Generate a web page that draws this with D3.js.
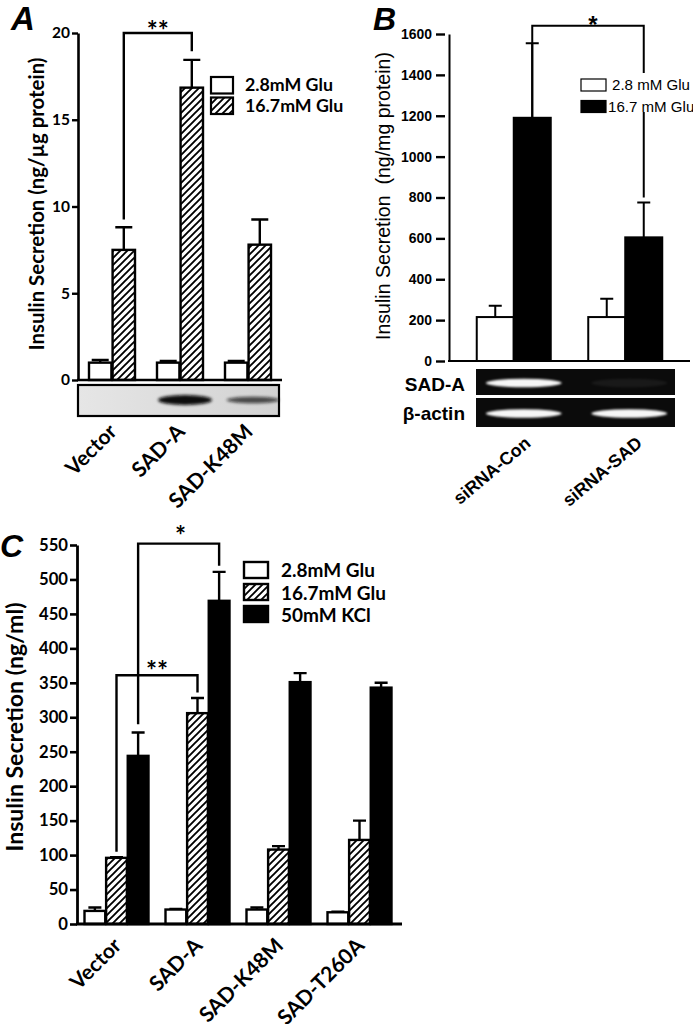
<!DOCTYPE html>
<html><head><meta charset="utf-8">
<script src="https://cdn.jsdelivr.net/npm/d3@7"></script>
<style>
body{margin:0;background:#fff;}
svg{display:block;}
</style></head><body>
<svg id="c" width="693" height="1024"></svg>
<script>
// ---------- DATA ----------
// Panel A
const groupsA = ["Vector", "SAD-A", "SAD-K48M"];
const seriesA = ["2.8mM Glu", "16.7mM Glu"];
const lowA = [1.0, 1.0, 1.0];
const lowAErr = [0.15, 0.1, 0.1];
const highA = [7.5, 16.85, 7.8];
const highAErr = [1.3, 1.6, 1.45];
const ticksA = [0, 5, 10, 15, 20];
const blotA = [0, 1.0, 0.7];
// Panel B
const groupsB = ["siRNA-Con", "siRNA-SAD"];
const seriesB = ["2.8 mM Glu", "16.7 mM Glu"];
const lowB = [215, 215];
const lowBErr = [55, 90];
const highB = [1190, 605];
const highBErr = [365, 170];
const ticksB = [0, 200, 400, 600, 800, 1000, 1200, 1400, 1600];
const blotRowsB = ["SAD-A", "β-actin"];
const blotSadB = [1.0, 0.06];
const blotActinB = [1.0, 1.0];
// Panel C
const groupsC = ["Vector", "SAD-A", "SAD-K48M", "SAD-T260A"];
const seriesC = ["2.8mM Glu", "16.7mM Glu", "50mM KCl"];
const lowC = [19, 21, 21, 17];
const lowCErr = [5, 1, 3, 1];
const highC = [96, 306, 108, 122];
const highCErr = [1, 22, 5, 28];
const kclC = [244, 469, 351, 343];
const kclCErr = [34, 42, 13, 7];
const ticksC = [0, 50, 100, 150, 200, 250, 300, 350, 400, 450, 500, 550];

// ---------- SETUP ----------
const svg = d3.select("#c");
const CAL = "Lato, 'Open Sans', sans-serif";
const ARI = "'Liberation Sans', Arial, sans-serif";
const defs = svg.append("defs");
const pat = defs.append("pattern").attr("id", "hatch").attr("patternUnits", "userSpaceOnUse")
  .attr("width", 7).attr("height", 7);
pat.append("rect").attr("width", 7).attr("height", 7).attr("fill", "#fff");
pat.append("path").attr("d", "M-1,1 L1,-1 M0,7 L7,0 M6,8 L8,6").attr("stroke", "#000").attr("stroke-width", 1.9);
defs.append("filter").attr("id", "blur").attr("x", "-30%").attr("y", "-100%").attr("width", "160%").attr("height", "300%")
  .append("feGaussianBlur").attr("stdDeviation", 1.8);
defs.append("filter").attr("id", "blur2").attr("x", "-30%").attr("y", "-100%").attr("width", "160%").attr("height", "300%")
  .append("feGaussianBlur").attr("stdDeviation", 1.1);

// scale a set of texts so that the reference element gets the target length
function fit(sel, target, idx) {
  const nodes = sel.nodes();
  const ref = nodes[idx || 0];
  const L = ref.getComputedTextLength();
  const fs = parseFloat(ref.getAttribute("font-size"));
  const nf = fs * target / L;
  nodes.forEach(n => n.setAttribute("font-size", nf));
}

function drawBars(g, groups, x, xs, y, series, values, errs, fills, sw, capW) {
  series.forEach((s, si) => {
    g.selectAll(null).data(groups).join("rect")
      .attr("x", d => x(d) + xs(s)).attr("width", xs.bandwidth())
      .attr("y", (d, i) => y(values[si][i])).attr("height", (d, i) => y(0) - y(values[si][i]))
      .attr("fill", fills[si]).attr("stroke", "#000").attr("stroke-width", sw);
    g.selectAll(null).data(groups).join("path")
      .attr("d", (d, i) => {
        const cx = x(d) + xs(s) + xs.bandwidth() / 2;
        const v = values[si][i], e = errs[si][i];
        return `M${cx},${y(v)}V${y(v + e)}M${cx - capW / 2},${y(v + e)}H${cx + capW / 2}`;
      })
      .attr("fill", "none").attr("stroke", "#000").attr("stroke-width", sw);
  });
}

// ---------- PANEL A ----------
(function () {
  const g = svg.append("g");
  const x = d3.scalePoint().domain(groupsA).range([78, 282]).padding(0.5);
  const xs = d3.scaleBand().domain(seriesA).range([-23, 23]).paddingInner(0.05);
  const y = d3.scaleLinear().domain([0, 20]).range([380, 33]);

  drawBars(g, groupsA, x, xs, y, seriesA, [lowA, highA], [lowAErr, highAErr], ["#fff", "url(#hatch)"], 2.4, 17);

  const ax = g.append("g").attr("transform", "translate(78,0)")
    .call(d3.axisLeft(y).tickValues(ticksA).tickSize(6).tickSizeOuter(0).tickPadding(2));
  ax.select(".domain").attr("stroke-width", 2.6);
  ax.selectAll(".tick line").attr("stroke-width", 2.4);
  const tl = ax.selectAll("text").attr("font-family", CAL).attr("font-weight", 700).attr("font-size", 18).attr("fill", "#000");
  fit(tl, 18, 4);
  g.append("line").attr("x1", 77).attr("x2", 282).attr("y1", y(0)).attr("y2", y(0)).attr("stroke", "#000").attr("stroke-width", 2.6);

  // blot
  const bg = defs.append("linearGradient").attr("id", "blotA").attr("x1", 0).attr("x2", 1);
  bg.append("stop").attr("offset", 0).attr("stop-color", "#e6e6e6");
  bg.append("stop").attr("offset", 1).attr("stop-color", "#d2d2d2");
  g.append("rect").attr("x", 78).attr("y", 385).attr("width", 201).attr("height", 31)
    .attr("fill", "url(#blotA)").attr("stroke", "#000").attr("stroke-width", 2.2);
  g.selectAll(null).data(groupsA).join("ellipse")
    .attr("cx", d => x(d) + 5).attr("cy", 400)
    .attr("rx", (d, i) => 25 + 2 * blotA[i]).attr("ry", (d, i) => 1.5 + 3.5 * blotA[i] * blotA[i])
    .attr("fill", "#0a0a0a").attr("opacity", (d, i) => blotA[i]).attr("filter", "url(#blur)");

  // bracket
  const cV = x("Vector") + xs(seriesA[1]) + xs.bandwidth() / 2;
  const cS = x("SAD-A") + xs(seriesA[1]) + xs.bandwidth() / 2;
  g.append("path").attr("d", `M${cV},${y(highA[0] + highAErr[0] + 0.45)}V${y(20)}H${cS}V${y(highA[1] + highAErr[1] + 0.5)}`)
    .attr("fill", "none").attr("stroke", "#000").attr("stroke-width", 2.4);
  g.append("text").attr("x", (cV + cS) / 2).attr("y", 40).attr("text-anchor", "middle")
    .attr("font-family", CAL).attr("font-weight", 700).attr("font-size", 26).text("**");

  // labels
  const yt = g.append("text").attr("transform", "translate(44,204) rotate(-90)").attr("text-anchor", "middle")
    .attr("font-family", CAL).attr("font-weight", 700).attr("font-size", 20).text("Insulin Secretion (ng/µg protein)");
  fit(yt, 293);
  g.append("text").attr("x", 11).attr("y", 30).attr("font-family", ARI).attr("font-weight", 700)
    .attr("font-style", "italic").attr("font-size", 33).text("A");
  const xl = g.selectAll(null).data(groupsA).join("text")
    .attr("transform", d => `translate(${x(d) + 6},${433}) rotate(-45)`).attr("text-anchor", "end")
    .attr("font-family", CAL).attr("font-weight", 700).attr("font-size", 20).text(d => d);
  fit(xl, 62, 0);

  // legend
  const lg = g.append("g");
  const fills = ["#fff", "url(#hatch)"];
  seriesA.forEach((s, i) => {
    lg.append("rect").attr("x", 211).attr("y", 77 + i * 20.5).attr("width", 22).attr("height", 16.5)
      .attr("fill", fills[i]).attr("stroke", "#000").attr("stroke-width", 2.2);
  });
  const lt = lg.selectAll(null).data(seriesA).join("text").attr("x", 245).attr("y", (d, i) => 91 + i * 20.5)
    .attr("font-family", CAL).attr("font-weight", 700).attr("font-size", 17).text(d => d);
  fit(lt, 88, 0);
})();

// ---------- PANEL B ----------
(function () {
  const g = svg.append("g");
  const x = d3.scalePoint().domain(groupsB).range([458, 681]).padding(0.5);
  const xs = d3.scaleBand().domain(seriesB).range([-37, 37]).paddingInner(0);
  const y = d3.scaleLinear().domain([0, 1600]).range([361, 34]);

  // bracket (behind legend)
  const cC = x(groupsB[0]) + xs(seriesB[1]) + xs.bandwidth() / 2;
  const cS = x(groupsB[1]) + xs(seriesB[1]) + xs.bandwidth() / 2;
  g.append("path").attr("d", `M${cC},${y(highB[0])}V${y(1640)}H${cS}V${y(800)}`)
    .attr("fill", "none").attr("stroke", "#000").attr("stroke-width", 2);
  g.append("text").attr("x", 593).attr("y", 33).attr("text-anchor", "middle")
    .attr("font-family", ARI).attr("font-weight", 700).attr("font-size", 24).text("*");

  drawBars(g, groupsB, x, xs, y, seriesB, [lowB, highB], [lowBErr, highBErr], ["#fff", "#000"], 2, 13);

  const ax = g.append("g").attr("transform", "translate(449,0)")
    .call(d3.axisLeft(y).tickValues(ticksB).tickFormat(d3.format("d")).tickSize(13).tickSizeOuter(0).tickPadding(4));
  ax.select(".domain").attr("stroke-width", 2);
  ax.selectAll(".tick line").attr("x1", -4).attr("stroke-width", 2.4);
  const tl = ax.selectAll("text").attr("font-family", ARI).attr("font-weight", 700).attr("font-size", 14).attr("fill", "#000");
  fit(tl, 31, 8);
  g.append("line").attr("x1", 448).attr("x2", 690).attr("y1", y(0)).attr("y2", y(0)).attr("stroke", "#000").attr("stroke-width", 2);

  // legend
  const lg = g.append("g");
  lg.append("rect").attr("x", 579).attr("y", 73).attr("width", 114).attr("height", 39).attr("fill", "#fff");
  const fills = ["#fff", "#000"];
  seriesB.forEach((s, i) => {
    lg.append("rect").attr("x", 581).attr("y", 79 + i * 21.5).attr("width", 25).attr("height", 12)
      .attr("fill", fills[i]).attr("stroke", "#000").attr("stroke-width", 1.2);
  });
  const lt = lg.selectAll(null).data(seriesB).join("text").attr("x", (d, i) => i === 0 ? 612 : 608)
    .attr("y", (d, i) => 90 + i * 21.5).attr("font-family", ARI).attr("font-size", 15).text(d => d);
  fit(lt, 78, 0);

  // blots
  const rowsY = [369, 398];
  const rowsH = [26, 29];
  const rowsVals = [blotSadB, blotActinB];
  blotRowsB.forEach((r, ri) => {
    g.append("rect").attr("x", 476).attr("y", rowsY[ri]).attr("width", 199).attr("height", rowsH[ri]).attr("fill", "#0b0b0b");
    g.selectAll(null).data(groupsB).join("ellipse")
      .attr("cx", (d, i) => x(d) + (i === 0 ? 10 : 4)).attr("cy", rowsY[ri] + rowsH[ri] / 2 + 1)
      .attr("rx", 38).attr("ry", 4.2)
      .attr("fill", "#f6f6f6").attr("opacity", (d, i) => rowsVals[ri][i]).attr("filter", "url(#blur2)");
  });
  g.selectAll(null).data(blotRowsB).join("text").attr("x", 465).attr("y", (d, i) => rowsY[i] + 22)
    .attr("text-anchor", "end").attr("font-family", ARI).attr("font-weight", 700).attr("font-size", 19).text(d => d);

  const yt = g.append("text").attr("transform", "translate(390,196) rotate(-90)").attr("text-anchor", "middle")
    .attr("font-family", ARI).attr("font-size", 19).attr("xml:space", "preserve").text("Insulin Secretion  (ng/mg protein)");
  fit(yt, 288);
  g.append("text").attr("x", 373).attr("y", 30).attr("font-family", ARI).attr("font-weight", 700)
    .attr("font-style", "italic").attr("font-size", 32).text("B");
  const xl = g.selectAll(null).data(groupsB).join("text")
    .attr("transform", (d, i) => `translate(${x(d) + 18},${445}) rotate(-40)`).attr("text-anchor", "end")
    .attr("font-family", ARI).attr("font-weight", 700).attr("font-size", 17).text(d => d);
  fit(xl, 94, 0);
})();

// ---------- PANEL C ----------
(function () {
  const g = svg.append("g");
  const x = d3.scalePoint().domain(groupsC).range([76, 400]).padding(0.5);
  const xs = d3.scaleBand().domain(seriesC).range([-32, 32]).paddingInner(0.04);
  const y = d3.scaleLinear().domain([0, 550]).range([924, 545]);

  drawBars(g, groupsC, x, xs, y, seriesC, [lowC, highC, kclC], [lowCErr, highCErr, kclCErr],
    ["#fff", "url(#hatch)", "#000"], 2.4, 13);

  const ax = g.append("g").attr("transform", "translate(77,0)")
    .call(d3.axisLeft(y).tickValues(ticksC).tickSize(7).tickSizeOuter(0).tickPadding(2));
  ax.select(".domain").attr("stroke-width", 2.8);
  ax.selectAll(".tick line").attr("stroke-width", 2.6);
  const tl = ax.selectAll("text").attr("font-family", CAL).attr("font-weight", 700).attr("font-size", 18).attr("fill", "#000");
  fit(tl, 29, 11);
  g.append("line").attr("x1", 76).attr("x2", 402).attr("y1", y(0)).attr("y2", y(0)).attr("stroke", "#000").attr("stroke-width", 2.8);

  // brackets
  const cx = (grp, s) => x(grp) + xs(s) + xs.bandwidth() / 2;
  const b1l = cx("Vector", seriesC[2]), b1r = cx("SAD-A", seriesC[2]);
  g.append("path").attr("d", `M${b1l},${y(290)}V${y(552)}H${b1r}V${y(520)}`)
    .attr("fill", "none").attr("stroke", "#000").attr("stroke-width", 2.4);
  g.append("text").attr("x", (b1l + b1r) / 2 + 2).attr("y", 545).attr("text-anchor", "middle")
    .attr("font-family", CAL).attr("font-weight", 700).attr("font-size", 26).text("*");
  const b2l = cx("Vector", seriesC[1]), b2r = cx("SAD-A", seriesC[1]);
  g.append("path").attr("d", `M${b2l},${y(105)}V${y(361)}H${b2r}V${y(336)}`)
    .attr("fill", "none").attr("stroke", "#000").attr("stroke-width", 2.4);
  g.append("text").attr("x", (b2l + b2r) / 2).attr("y", 680).attr("text-anchor", "middle")
    .attr("font-family", CAL).attr("font-weight", 700).attr("font-size", 26).text("**");

  // legend
  const fills = ["#fff", "url(#hatch)", "#000"];
  seriesC.forEach((s, i) => {
    g.append("rect").attr("x", 244).attr("y", 562 + i * 22).attr("width", 24).attr("height", 16)
      .attr("fill", fills[i]).attr("stroke", "#000").attr("stroke-width", 2.4);
  });
  const lt = g.selectAll(null).data(seriesC).join("text").attr("x", 281).attr("y", (d, i) => 577 + i * 22.5)
    .attr("font-family", CAL).attr("font-weight", 700).attr("font-size", 18.5).text(d => d);
  fit(lt, 105, 1);

  const yt = g.append("text").attr("transform", "translate(23,727) rotate(-90)").attr("text-anchor", "middle")
    .attr("font-family", CAL).attr("font-weight", 700).attr("font-size", 22).text("Insulin Secretion (ng/ml)");
  fit(yt, 249);
  g.append("text").attr("x", 0).attr("y", 557).attr("font-family", ARI).attr("font-weight", 700)
    .attr("font-style", "italic").attr("font-size", 32).text("C");
  const xl = g.selectAll(null).data(groupsC).join("text")
    .attr("transform", d => `translate(${x(d) + 6},${947}) rotate(-45)`).attr("text-anchor", "end")
    .attr("font-family", CAL).attr("font-weight", 700).attr("font-size", 20).text(d => d);
  fit(xl, 62, 0);
})();
</script>
</body></html>
